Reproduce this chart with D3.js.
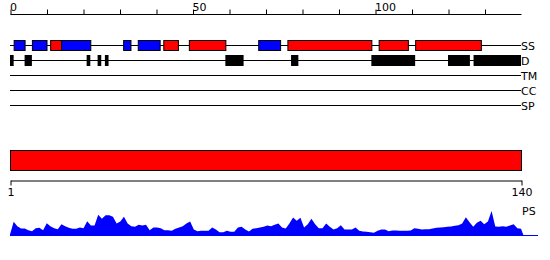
<!DOCTYPE html>
<html>
<head>
<meta charset="utf-8">
<script src="https://cdn.jsdelivr.net/npm/d3@7"></script>
<style>
body { margin: 0; background: #fff; }
text { font-family: "DejaVu Sans", sans-serif; font-size: 11px; }
</style>
</head>
<body>
<svg></svg>
<script>
// data
let trackNames = ["SS", "D", "TM", "CC", "SP"];

let ssStart = [1, 6, 11, 14, 31, 35, 42, 49, 68, 76, 101, 111];
let ssEnd   = [4, 10, 14, 22, 33, 41, 46, 59, 74, 99, 109, 129];
let ssType  = ["E", "E", "H", "E", "E", "E", "H", "H", "E", "H", "H", "H"];

let dStart = [0, 4, 21, 24, 26, 59, 77, 99, 120, 127];
let dEnd   = [1, 6, 22, 25, 27, 64, 79, 111, 126, 140];

let topTicks = [0, 10, 20, 30, 40, 50, 60, 70, 80, 90, 100, 110, 120, 130];
let topLabels = [0, 50, 100];

let seqLength = 140;

let psValues = [
  1, 13.7, 9.3, 7, 7, 5.3, 4.3, 7.3, 7.7, 5.3,
  12.3, 9.3, 7.3, 6.3, 11.3, 9.3, 7.7, 6.7, 6.7, 8,
  7.3, 14.3, 10, 10, 20.7, 16.7, 20.3, 20.3, 18.7, 12,
  14, 18.7, 12, 9.3, 8.7, 10.7, 10, 10.7, 5.3, 8,
  8, 7.3, 5.3, 5.3, 4.7, 6.7, 8, 9.3, 12, 14,
  6, 4.3, 4.7, 4.7, 4.7, 8, 6, 3.3, 3.3, 4.7,
  3.7, 3.7, 8, 8.7, 6, 4, 6.7, 7.3, 8, 8.7,
  10, 9.3, 10.7, 12, 8, 7, 12, 18, 14.7, 17.7,
  8, 11.3, 16.7, 11.3, 7.3, 7.3, 12, 8.7, 6, 7.3,
  10.3, 6, 6, 6, 8, 4.7, 4, 3.7, 3.3, 2.7,
  4.7, 6, 6, 4.3, 5, 5, 4.7, 4.7, 4.7, 5,
  7.3, 6.7, 6, 6.3, 6.3, 7, 7.7, 8, 8.3, 8.7,
  9, 9.7, 10.3, 12, 18.3, 13.3, 8.7, 12.7, 14.7, 11.3,
  14, 24.5, 9, 8.7, 9.3, 8.7, 10, 11.3, 7.3, 6.7
];

let width = 550;
let height = 260;
let left = 10;
let right = 521;

let svg = d3.select("svg")
    .attr("width", width)
    .attr("height", height);

let scaleX = d3.scaleLinear().domain([0, seqLength]).range([left, right]);
let scaleRes = d3.scaleLinear().domain([1, seqLength]).range([left, right]);

// top axis
let axisTop = d3.axisTop(scaleX)
    .tickValues(topTicks)
    .tickSize(5)
    .tickFormat("");
svg.append("g")
    .attr("transform", "translate(0.5, 14.5)")
    .call(axisTop)
    .call(g => g.select(".domain").attr("d", `M${left},0H${right}`));

svg.append("g")
    .selectAll("text")
    .data(topLabels)
    .enter()
    .append("text")
    .attr("x", d => scaleX(d))
    .attr("y", 11)
    .text(d => d);

// track lines and labels
let rowY = d3.scalePoint().domain(trackNames).range([45, 105]);

svg.append("g")
    .selectAll("line")
    .data(trackNames)
    .enter()
    .append("line")
    .attr("x1", left)
    .attr("x2", right)
    .attr("y1", d => rowY(d) + 0.5)
    .attr("y2", d => rowY(d) + 0.5)
    .attr("stroke", "black");

svg.append("g")
    .selectAll("text")
    .data(trackNames)
    .enter()
    .append("text")
    .attr("x", right)
    .attr("y", d => rowY(d) + 4.5)
    .text(d => d);

// secondary structure boxes
let ssColor = d3.scaleOrdinal().domain(["H", "E"]).range(["#ff0000", "#0000ff"]);
svg.append("g")
    .selectAll("rect")
    .data(ssStart.map((s, i) => ({ start: s, end: ssEnd[i], type: ssType[i] })))
    .enter()
    .append("rect")
    .attr("x", d => scaleX(d.start) + 0.5)
    .attr("width", d => scaleX(d.end) - scaleX(d.start))
    .attr("y", rowY("SS") - 4.5)
    .attr("height", 10)
    .attr("fill", d => ssColor(d.type))
    .attr("stroke", "black");

// disorder boxes
svg.append("g")
    .selectAll("rect")
    .data(dStart.map((s, i) => ({ start: s, end: dEnd[i] })))
    .enter()
    .append("rect")
    .attr("x", d => scaleX(d.start))
    .attr("width", d => scaleX(d.end) - scaleX(d.start))
    .attr("y", rowY("D") - 5)
    .attr("height", 11)
    .attr("fill", "black");

// whole-sequence bar
svg.append("rect")
    .attr("x", scaleRes(1) + 0.5)
    .attr("width", scaleRes(seqLength) - scaleRes(1))
    .attr("y", 150.5)
    .attr("height", 20)
    .attr("fill", "#ff0000")
    .attr("stroke", "black");

// bottom axis 1..140
let axisBottom = d3.axisBottom(scaleRes)
    .tickValues([1, seqLength])
    .tickSize(5)
    .tickSizeOuter(0)
    .tickPadding(3);
svg.append("g")
    .attr("transform", "translate(0.5, 180.5)")
    .call(axisBottom)
    .call(g => g.selectAll("text")
        .attr("fill", "black")
        .style("font-family", "DejaVu Sans, sans-serif")
        .style("font-size", "11px"));

svg.append("text")
    .attr("x", right + 1)
    .attr("y", 215)
    .text("PS");

// profile area
let baseY = 235.5;
let scaleY = d3.scaleLinear().domain([0, 25]).range([baseY, baseY - 25]);

let area = d3.area()
    .x(d => scaleRes(d.i))
    .y0(baseY)
    .y1(d => scaleY(d.v));

let psData = psValues.map((v, k) => ({ i: k + 1, v: v }));
psData.unshift({ i: 1, v: 0 });
psData.push({ i: seqLength + 0.7, v: 0 });

svg.append("path")
    .datum(psData)
    .attr("d", area)
    .attr("fill", "#0000ff");

svg.append("line")
    .attr("x1", left)
    .attr("x2", 538)
    .attr("y1", baseY)
    .attr("y2", baseY)
    .attr("stroke", "#0000ff");
</script>
</body>
</html>
